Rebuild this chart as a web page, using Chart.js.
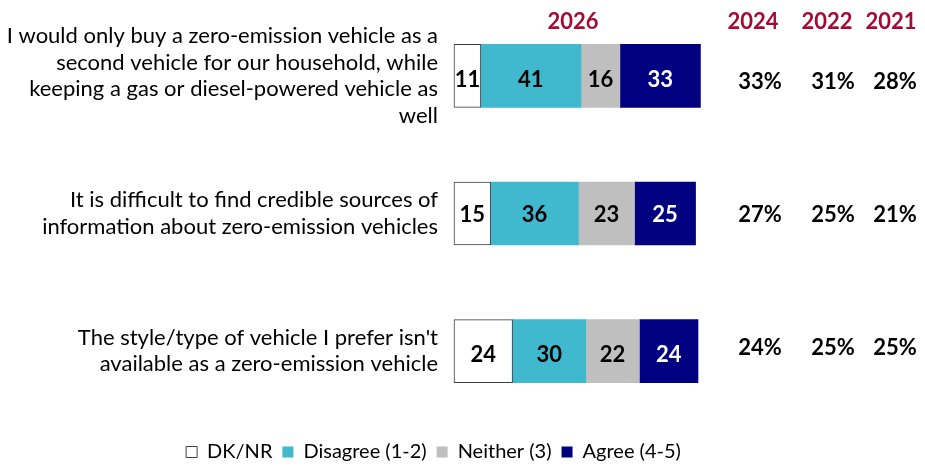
<!DOCTYPE html>
<html><head><meta charset="utf-8">
<script src="https://cdn.jsdelivr.net/npm/chart.js@4/dist/chart.umd.min.js"></script>
<style>html,body{margin:0;padding:0;background:#fff;} #wrap{width:925px;height:466px;position:relative;}</style>
</head><body><div id="wrap"><canvas id="c"></canvas></div>
<script>
const categories = [
  ["I would only buy a zero-emission vehicle as a","second vehicle for our household, while","keeping a gas or diesel-powered vehicle as","well"],
  ["It is difficult to find credible sources of","information about zero-emission vehicles"],
  ["The style/type of vehicle I prefer isn't","available as a zero-emission vehicle"]
];
const seriesNames = ["DK/NR","Disagree (1-2)","Neither (3)","Agree (4-5)"];
const dkNr = [11,15,24];
const disagree = [41,36,30];
const neither = [16,23,22];
const agree = [33,25,24];
const currentYear = "2026";
const pastYears = ["2024","2022","2021"];
const agree2024 = [33,27,24];
const agree2022 = [31,25,25];
const agree2021 = [28,21,25];

const FONT = "Lato";
const pastCols = [agree2024, agree2022, agree2021];
const valueColX = [760, 833, 895];
const headerColX = [753, 827, 891];
const valueRowDy = [5, 0, -4];
const barLabelDy = [3, 0, 3];
const RED = "#A50A35";

const overlay = {
  id: 'overlay',
  afterLayout(chart) {
    const l = chart.legend;
    if (!l) return;
    l.left = 0; l.right = 867; l.width = 867;
    l.top += 12; l.bottom += 12;
  },
  afterDatasetsDraw(chart) {
    const ctx = chart.ctx;
    ctx.save();
    ctx.textAlign = 'center';
    ctx.textBaseline = 'middle';
    ctx.font = `bold 22px ${FONT}`;
    chart.data.datasets.forEach((ds, di) => {
      const meta = chart.getDatasetMeta(di);
      meta.data.forEach((el, i) => {
        ctx.fillStyle = di === 3 ? '#ffffff' : '#000000';
        ctx.fillText(String(ds.data[i]), (el.x + el.base) / 2, el.y + 1 + barLabelDy[i]);
      });
    });
    const ys = chart.scales.y;
    const xs = chart.scales.x;
    ctx.fillStyle = RED;
    ctx.fillText(currentYear, xs.getPixelForValue(50) - 3, 22);
    pastYears.forEach((y, k) => ctx.fillText(y, headerColX[k], 22));
    ctx.fillStyle = '#000000';
    pastCols.forEach((col, k) => {
      col.forEach((v, i) => {
        ctx.fillText(v + '%', valueColX[k], ys.getPixelForValue(i) + 1 + valueRowDy[i]);
      });
    });
    ctx.restore();
  }
};

new Chart(document.getElementById('c'), {
  type: 'bar',
  data: {
    labels: categories,
    datasets: [
      {label: seriesNames[0], data: dkNr, backgroundColor: '#ffffff', borderColor: '#404040', borderWidth: 1},
      {label: seriesNames[1], data: disagree, backgroundColor: '#40B8CE', borderColor: '#40B8CE', borderWidth: 0},
      {label: seriesNames[2], data: neither, backgroundColor: '#BFBFBF', borderColor: '#BFBFBF', borderWidth: 0},
      {label: seriesNames[3], data: agree, backgroundColor: '#000080', borderColor: '#000080', borderWidth: 0}
    ]
  },
  options: {
    indexAxis: 'y',
    responsive: true,
    maintainAspectRatio: false,
    animation: false,
    events: [],
    layout: {padding: {top: 7, right: 227, bottom: 6, left: 0}},
    datasets: {bar: {barThickness: 63, borderSkipped: false, clip: false}},
    scales: {
      x: {stacked: true, min: 0, max: 100, display: false},
      y: {
        stacked: true,
        grid: {display: false, drawTicks: false},
        border: {display: false},
        ticks: {padding: 16, color: '#000', font: {family: FONT, size: 22, lineHeight: 1.2}},
        afterFit(scale) { scale.width = 454; scale.paddingTop = 0; scale.paddingBottom = 0; }
      }
    },
    plugins: {
      tooltip: {enabled: false},
      legend: {
        position: 'bottom',
        labels: {boxWidth: 11, boxHeight: 11, padding: 10, color: '#000', font: {family: FONT, size: 20}}
      }
    }
  },
  plugins: [overlay]
});
</script>
</body></html>
